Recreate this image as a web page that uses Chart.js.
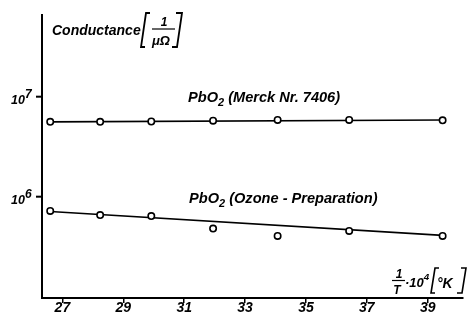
<!DOCTYPE html>
<html><head><meta charset="utf-8">
<script src="https://cdn.jsdelivr.net/npm/chart.js@4/dist/chart.umd.min.js"></script>
<style>html,body{margin:0;background:#fff}#wrap{width:468px;height:322px}</style>
</head><body><div id="wrap"><canvas id="c"></canvas></div>
<script>
// 1/T * 10^4 [1/K]
const invT = [26.6, 28.24, 29.92, 31.95, 34.07, 36.42, 39.49];
// conductance [1/(micro ohm)]
const merck = [5.6e6, 5.6e6, 5.65e6, 5.75e6, 5.85e6, 5.85e6, 5.8e6];
const ozone = [7.2e5, 6.55e5, 6.4e5, 4.8e5, 4.05e5, 4.55e5, 4.05e5];
// drawn straight fit lines (end points)
const fitT = [26.6, 39.49];
const merckFit = [5.6e6, 5.85e6];
const ozoneFit = [7.1e5, 4.1e5];
const xTicks = [27, 29, 31, 33, 35, 37, 39];
const yTicks = [1e6, 1e7];
const yTickExp = ['6', '7'];

const pts = (xs, ys) => xs.map((x, i) => ({x, y: ys[i]}));
const F = s => `italic bold ${s}px "Liberation Sans", sans-serif`;

function runs(ctx, x, y, parts, size) {
  // parts: [text, shift] shift>0 subscript, <0 superscript
  ctx.textAlign = 'left';
  for (const [t, sh] of parts) {
    ctx.font = F(sh ? size * 0.75 : size);
    ctx.fillText(t, x, y + sh);
    x += ctx.measureText(t).width;
  }
}

const texts = {
  id: 'texts',
  afterDraw(chart) {
    const ctx = chart.ctx;
    const ys = chart.scales.y;
    const left = chart.chartArea.left;
    ctx.save();
    ctx.fillStyle = '#000'; ctx.strokeStyle = '#000';
    ctx.textBaseline = 'alphabetic';

    // y ticks: mark + 10^n label
    yTicks.forEach((v, i) => {
      const py = ys.getPixelForValue(v);
      ctx.fillRect(left - 6, py - 1, 7, 2);
      ctx.font = F(12.5); ctx.textAlign = 'right';
      ctx.fillText('10', 25, py + 7);
      ctx.font = F(12); ctx.textAlign = 'left';
      ctx.fillText(yTickExp[i], 25, py + 1);
    });

    // y title
    ctx.font = F(14); ctx.textAlign = 'left';
    ctx.fillText('Conductance', 52, 35);
    ctx.lineWidth = 1.8;
    ctx.beginPath();
    ctx.moveTo(150, 13); ctx.lineTo(146, 13); ctx.lineTo(141, 47); ctx.lineTo(145, 47);
    ctx.moveTo(176, 13); ctx.lineTo(182, 13); ctx.lineTo(177, 47); ctx.lineTo(172, 47);
    ctx.stroke();
    ctx.lineWidth = 1.2;
    ctx.beginPath(); ctx.moveTo(152, 29); ctx.lineTo(175, 29); ctx.stroke();
    ctx.textAlign = 'center';
    ctx.font = F(12); ctx.fillText('1', 164, 26);
    ctx.font = F(13); ctx.fillText('μΩ', 161, 45);

    // series labels
    runs(ctx, 188, 102, [['PbO', 0], ['2', 4], [' (Merck Nr. 7406)', 0]], 14.6);
    runs(ctx, 189, 203, [['PbO', 0], ['2', 4], [' (Ozone - Preparation)', 0]], 14.6);

    // x title
    ctx.textAlign = 'center';
    ctx.font = F(12); ctx.fillText('1', 399, 278);
    ctx.lineWidth = 1.2;
    ctx.beginPath(); ctx.moveTo(392, 280.5); ctx.lineTo(405, 280.5); ctx.stroke();
    ctx.font = F(12); ctx.fillText('T', 397, 294);
    runs(ctx, 405, 287, [['·10', 0], ['4', -7]], 13);
    ctx.lineWidth = 1.6;
    ctx.beginPath();
    ctx.moveTo(439, 268); ctx.lineTo(435, 268); ctx.lineTo(431, 293); ctx.lineTo(435, 293);
    ctx.moveTo(461, 268); ctx.lineTo(466, 268); ctx.lineTo(462, 293); ctx.lineTo(457, 293);
    ctx.stroke();
    runs(ctx, 437, 288, [['°K', 0]], 14);
    ctx.restore();
  }
};

const pointStyle = {showLine: false, pointRadius: 3.2, pointBorderWidth: 1.6,
  pointBackgroundColor: '#fff', pointBorderColor: '#000'};
const lineStyle = {showLine: true, pointRadius: 0, borderColor: '#000', borderWidth: 1.6};

new Chart(document.getElementById('c'), {
  type: 'scatter',
  data: {
    datasets: [
      {label: 'PbO2 (Merck Nr. 7406)', data: pts(invT, merck), ...pointStyle},
      {label: 'PbO2 (Ozone - Preparation)', data: pts(invT, ozone), ...pointStyle},
      {label: 'Merck fit', data: pts(fitT, merckFit), ...lineStyle},
      {label: 'Ozone fit', data: pts(fitT, ozoneFit), ...lineStyle}
    ]
  },
  options: {
    responsive: true, maintainAspectRatio: false, animation: false,
    layout: {padding: {top: 15, right: 0, left: 0, bottom: 0}},
    plugins: {legend: {display: false}, tooltip: {enabled: false}},
    scales: {
      x: {
        type: 'linear', min: 26.33, max: 40.14,
        border: {color: '#000', width: 2},
        grid: {drawOnChartArea: false, color: '#000', lineWidth: 1.5, tickLength: 5},
        ticks: {color: '#000', font: {family: '"Liberation Sans"', style: 'italic', weight: 'bold', size: 14}, padding: -3, maxRotation: 0},
        afterBuildTicks: s => { s.ticks = xTicks.map(v => ({value: v})); },
        afterFit: s => { s.height = 24; }
      },
      y: {
        type: 'logarithmic', min: 9.7e4, max: 6.56e7,
        border: {color: '#000', width: 2},
        grid: {display: false},
        ticks: {display: false},
        afterBuildTicks: s => { s.ticks = yTicks.map(v => ({value: v})); },
        afterFit: s => { s.width = 42; }
      }
    }
  },
  plugins: [texts]
});
</script>
</body></html>
